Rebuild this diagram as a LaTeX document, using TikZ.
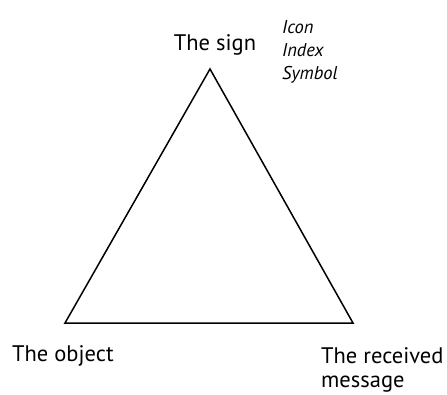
\documentclass[tikz,border=0pt]{standalone}
\usepackage{fontspec}
\setmainfont{PT Sans}

\begin{document}
\begin{tikzpicture}[
    x=1pt, y=-1pt,
    corner/.style={inner sep=0pt, font=\fontsize{22.5}{24}\selectfont, align=left},
    kinds/.style={inner sep=0pt, font=\fontsize{18.5}{23}\selectfont\itshape, align=left},
    side/.style={line width=1.5pt, line join=miter}
]
    \useasboundingbox (0,0) rectangle (447,394);

    \coordinate (apex) at (210,69);
    \coordinate (left) at (65,323);
    \coordinate (right) at (353,323);

    \node[corner, anchor=base] (sign) at (215,50) {The sign};
    \node[kinds, anchor=north west] (signkinds) at (282,20) {Icon\\Index\\Symbol};
    \node[corner, anchor=base west] (object) at (12,361) {The object};
    \node[corner, anchor=north west] (message) at (321,347) {The received\\message};

    \draw[side] (apex) -- (left) -- (right) -- cycle;
\end{tikzpicture}
\end{document}
